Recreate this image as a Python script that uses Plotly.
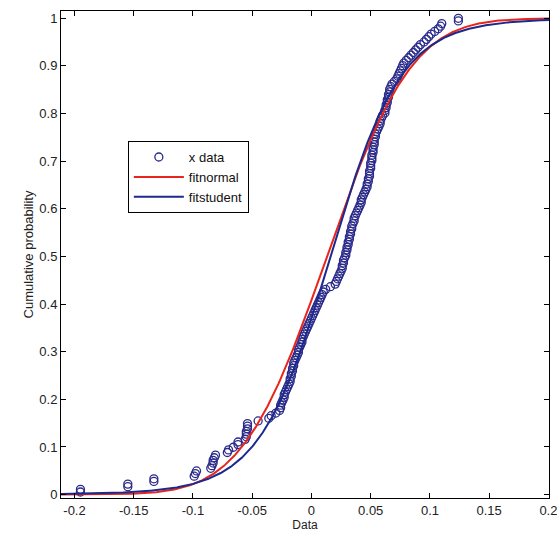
import math
import numpy as np
import plotly.graph_objects as go

# ---- data ----
x_data = [
    -0.195, -0.195, -0.155, -0.155, -0.133, -0.133, -0.099, -0.098, -0.097,
    -0.085, -0.084, -0.083, -0.083, -0.082, -0.081,
    -0.071, -0.070, -0.066, -0.062, -0.062,
    -0.056, -0.055, -0.055, -0.055, -0.054, -0.054, -0.054,
    -0.045, -0.036, -0.034, -0.030,
    -0.027, -0.026, -0.026, -0.025, -0.024, -0.023, -0.023, -0.022, -0.021, -0.020,
    -0.019, -0.018, -0.018, -0.017, -0.017, -0.016, -0.016, -0.015, -0.015, -0.014,
    -0.013, -0.012, -0.011, -0.011, -0.010, -0.009, -0.008, -0.008, -0.007, -0.006,
    -0.005, -0.004, -0.003, -0.002, -0.001, 0.000, 0.001, 0.002, 0.003, 0.004,
    0.005, 0.006, 0.007, 0.008, 0.009, 0.010, 0.012, 0.016, 0.020, 0.021,
    0.022, 0.023, 0.024, 0.025, 0.026, 0.026, 0.027, 0.027, 0.028, 0.029,
    0.029, 0.030, 0.030, 0.031, 0.031, 0.032, 0.032, 0.033, 0.033, 0.034,
    0.034, 0.035, 0.036, 0.036, 0.037, 0.038, 0.039, 0.040, 0.041, 0.042,
    0.042, 0.043, 0.044, 0.045, 0.046, 0.047, 0.047, 0.048, 0.048, 0.049,
    0.049, 0.049, 0.050, 0.050, 0.050, 0.051, 0.051, 0.051, 0.052, 0.052,
    0.052, 0.053, 0.053, 0.053, 0.054, 0.054, 0.055, 0.056, 0.057, 0.058,
    0.058, 0.059, 0.060, 0.062, 0.062, 0.063, 0.063, 0.064, 0.064, 0.065,
    0.065, 0.066, 0.066, 0.067, 0.068, 0.070, 0.072, 0.073, 0.074, 0.075,
    0.076, 0.077, 0.078, 0.080, 0.082, 0.084, 0.086, 0.088, 0.090, 0.092,
    0.095, 0.097, 0.099, 0.101, 0.104, 0.107, 0.109, 0.110, 0.124, 0.124,
]

# fitted distribution parameters
normal_mu = 0.013
normal_sigma = 0.056
student_loc = 0.016
student_scale = 0.046
student_nu = 6.0

x_ticks = [-0.2, -0.15, -0.1, -0.05, 0, 0.05, 0.1, 0.15, 0.2]
x_tick_labels = ["-0.2", "-0.15", "-0.1", "-0.05", "0", "0.05", "0.1", "0.15", "0.2"]
y_ticks = [0, 0.1, 0.2, 0.3, 0.4, 0.5, 0.6, 0.7, 0.8, 0.9, 1]
y_tick_labels = ["0", "0.1", "0.2", "0.3", "0.4", "0.5", "0.6", "0.7", "0.8", "0.9", "1"]

# ---- derived ----
xs = np.sort(np.array(x_data))
n = len(xs)
ecdf = np.arange(1, n + 1) / n

grid = np.linspace(-0.2114, 0.2005, 600)
normal_cdf = np.array([0.5 * (1 + math.erf((g - normal_mu) / (normal_sigma * math.sqrt(2)))) for g in grid])

# student t cdf by numerical integration of the density
zz = np.linspace(-80, 80, 400001)
pdf = (1 + zz ** 2 / student_nu) ** (-(student_nu + 1) / 2)
cum = np.concatenate([[0], np.cumsum((pdf[1:] + pdf[:-1]) / 2 * np.diff(zz))])
cum = cum / cum[-1]
student_cdf = np.interp((grid - student_loc) / student_scale, zz, cum)

font_family = "Liberation Sans, Arial, sans-serif"

fig = go.Figure()
fig.add_trace(go.Scatter(
    x=xs, y=ecdf, mode="markers", name="x data",
    marker=dict(symbol="circle-open", size=8, color="#2a2a8a", line=dict(width=1.3)),
))
fig.add_trace(go.Scatter(
    x=grid, y=normal_cdf, mode="lines", name="fitnormal",
    line=dict(color="#e8241c", width=2),
))
fig.add_trace(go.Scatter(
    x=grid, y=student_cdf, mode="lines", name="fitstudent",
    line=dict(color="#1c2a8c", width=2),
))

fig.update_layout(
    width=557, height=537,
    margin=dict(l=61, r=8, t=11, b=39, autoexpand=False),
    paper_bgcolor="white", plot_bgcolor="white",
    font=dict(family=font_family, size=12, color="#222222"),
    showlegend=True,
    legend=dict(
        x=0.137, y=0.733, xanchor="left", yanchor="top",
        bgcolor="white", bordercolor="black", borderwidth=1,
        font=dict(size=13, color="#111111"),
        tracegroupgap=0, itemwidth=50,
    ),
    xaxis=dict(
        range=[-0.2114, 0.2005], tickmode="array", tickvals=x_ticks, ticktext=x_tick_labels,
        showgrid=False, zeroline=False, showline=True, linecolor="black", linewidth=1,
        mirror="ticks", ticks="inside", ticklen=5, tickcolor="black",
        ticklabeloverflow="allow", automargin=False,
        title=dict(text="Data", font=dict(size=12), standoff=4),
        tickfont=dict(size=13),
    ),
    yaxis=dict(
        range=[-0.0071, 1.0153], tickmode="array", tickvals=y_ticks, ticktext=y_tick_labels,
        showgrid=False, zeroline=False, showline=True, linecolor="black", linewidth=1,
        mirror="ticks", ticks="inside", ticklen=5, tickcolor="black",
        automargin=False,
        title=dict(text="Cumulative probability", font=dict(size=13), standoff=2),
        tickfont=dict(size=13),
    ),
)

fig.write_html("out.html")
